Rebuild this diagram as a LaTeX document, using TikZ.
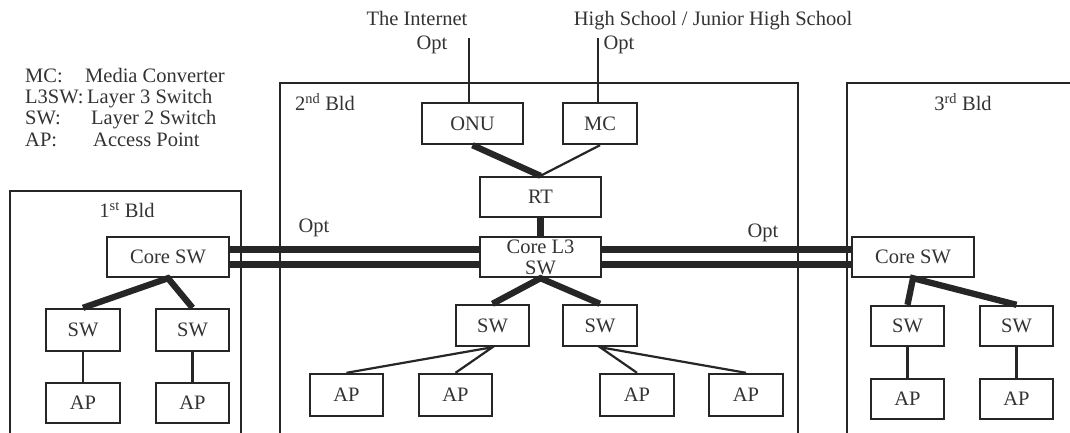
\documentclass[tikz,border=0pt]{standalone}
\usepackage{fontspec}
\setmainfont{Liberation Serif}
\begin{document}
\begin{tikzpicture}[x=1pt,y=-1pt,
  txt/.style={font=\fontsize{20.5}{21}\selectfont, text=black!80, inner sep=0pt},
  box/.style={txt, draw=black!85, line width=2.4pt, align=center},
  bld/.style={draw=black!85, line width=2.3pt},
  thin/.style={draw=black!85, line width=2.2pt},
  fat/.style={draw=black!85, line width=6.3pt}]
\useasboundingbox (0,0) rectangle (1070,432);
\clip (0,0) rectangle (1070,432);
\fill[white] (0,0) rectangle (1070,432);
% buildings
\draw[bld] (10,445) -- (10,191) -- (241,191) -- (241,445);
\draw[bld] (280,445) -- (280,83) -- (798,83) -- (798,445);
\draw[bld] (847,445) -- (847,83) -- (1080,83);
\node[txt] (b1) at (127,210) {1\textsuperscript{st} Bld};
\node[txt] (b2) at (325,102) {2\textsuperscript{nd} Bld};
\node[txt] (b3) at (963,102) {3\textsuperscript{rd} Bld};
% legend
\node[txt, anchor=base west] (l1) at (25,82) {MC:};
\node[txt, anchor=base west] (l1t) at (85,82) {Media Converter};
\node[txt, anchor=base west] (l2) at (25,103.5) {L3SW:};
\node[txt, anchor=base west] (l2t) at (87,103.5) {Layer 3 Switch};
\node[txt, anchor=base west] (l3) at (25,124.5) {SW:};
\node[txt, anchor=base west] (l3t) at (91,124.5) {Layer 2 Switch};
\node[txt, anchor=base west] (l4) at (25,146.5) {AP:};
\node[txt, anchor=base west] (l4t) at (93,146.5) {Access Point};
% top labels
\node[txt, anchor=base] (inet) at (417,25) {The Internet};
\node[txt, anchor=base] (hs) at (713,25) {High School / Junior High School};
\node[txt, anchor=base] (opt1) at (432,49) {Opt};
\node[txt, anchor=base] (opt2) at (619,49) {Opt};
\node[txt, anchor=base] (opt3) at (314,232) {Opt};
\node[txt, anchor=base] (opt4) at (763,237) {Opt};
\coordinate (inetend) at (469,38);
\coordinate (hsend) at (598,38);
% building 2 nodes
\node[box, minimum width=101, minimum height=41] (onu) at (472.5,123.5) {ONU};
\node[box, minimum width=74, minimum height=41] (mc) at (600,123.5) {MC};
\node[box, minimum width=121, minimum height=40] (rt) at (540.5,197) {RT};
\node[box, minimum width=121, minimum height=40] (core2) at (540.5,257) {Core L3\\SW};
\node[box, minimum width=73, minimum height=41] (sw2a) at (492.5,325.5) {SW};
\node[box, minimum width=74, minimum height=41] (sw2b) at (600,325.5) {SW};
\node[box, minimum width=73, minimum height=42] (ap2a) at (346.5,395) {AP};
\node[box, minimum width=73, minimum height=42] (ap2b) at (455.5,395) {AP};
\node[box, minimum width=74, minimum height=42] (ap2c) at (637,395) {AP};
\node[box, minimum width=74, minimum height=42] (ap2d) at (746,395) {AP};
% building 1 nodes
\node[box, minimum width=122, minimum height=40] (core1) at (168,257) {Core SW};
\node[box, minimum width=74, minimum height=42] (sw1a) at (83,330) {SW};
\node[box, minimum width=73, minimum height=42] (sw1b) at (192.5,330) {SW};
\node[box, minimum width=74, minimum height=40] (ap1a) at (83,403) {AP};
\node[box, minimum width=73, minimum height=40] (ap1b) at (192.5,403) {AP};
% building 3 nodes
\node[box, minimum width=122, minimum height=40] (core3) at (913,257) {Core SW};
\node[box, minimum width=73, minimum height=40] (sw3a) at (907.5,326) {SW};
\node[box, minimum width=73, minimum height=40] (sw3b) at (1016.5,326) {SW};
\node[box, minimum width=73, minimum height=40] (ap3a) at (907.5,399) {AP};
\node[box, minimum width=73, minimum height=40] (ap3b) at (1016.5,399) {AP};
% connectors
\draw[thin] (inetend) -- (inetend |- onu.north);
\draw[thin] (hsend) -- (hsend |- mc.north);
\draw[fat] (onu.south) -- (rt.north);
\draw[thin] (mc.south) -- (rt.north);
\draw[fat] (rt.south) -- (core2.north);
\draw[fat] ([yshift=7.5pt]core1.east) -- ([yshift=7.5pt]core2.west);
\draw[fat] ([yshift=-7.5pt]core1.east) -- ([yshift=-7.5pt]core2.west);
\draw[fat] ([yshift=7.5pt]core2.east) -- ([yshift=7.5pt]core3.west);
\draw[fat] ([yshift=-7.5pt]core2.east) -- ([yshift=-7.5pt]core3.west);
\draw[fat] (sw2a.north) -- (core2.south) -- (sw2b.north);
\draw[fat] (sw1a.north) -- (core1.south) -- (sw1b.north);
\draw[fat] (sw3a.north) -- (core3.south) -- (sw3b.north);
\draw[thin] (ap2a.north) -- (sw2a.south) -- (ap2b.north);
\draw[thin] (ap2c.north) -- (sw2b.south) -- (ap2d.north);
\draw[thin] (sw1a) -- (ap1a);
\draw[thin] (sw1b) -- (ap1b);
\draw[thin] (sw3a) -- (ap3a);
\draw[thin] (sw3b) -- (ap3b);
\end{tikzpicture}
\end{document}
